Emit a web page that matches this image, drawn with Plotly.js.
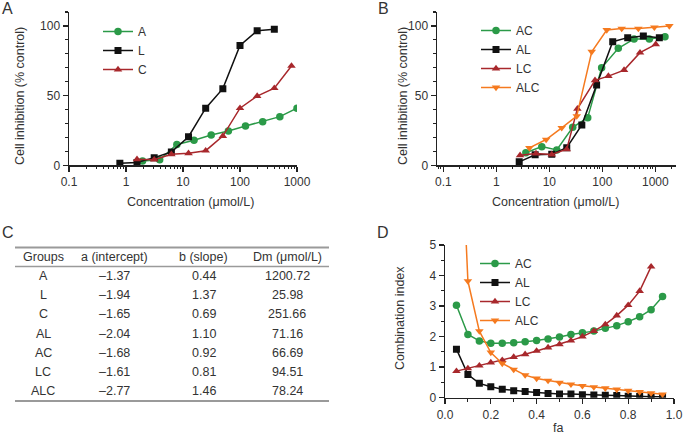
<!DOCTYPE html>
<html>
<head>
<meta charset="utf-8">
<script src="https://cdn.plot.ly/plotly-3.0.1.min.js"></script>
<style>
  html, body { margin: 0; padding: 0; background: #fff; }
  #chart { width: 685px; height: 434px; }
</style>
</head>
<body>
<div id="chart"></div>
<script>
// Panel A - single agents
const concA = [1.95, 3.9, 7.8, 15.6, 31.25, 62.5, 125, 250, 500, 1000];
const inhibA = [3, 4, 15, 18, 21.8, 24.6, 28.2, 31.3, 34.9, 41];
const concL = [0.78, 1.56, 3.125, 6.25, 12.5, 25, 50, 100, 200, 400];
const inhibL = [1.4, 2, 5.5, 9.5, 20.5, 41, 55, 86, 96.6, 97.6];
const concC = [1.56, 3.125, 6.25, 12.5, 25, 50, 100, 200, 400, 800];
const inhibC = [4.3, 4, 7.9, 8.6, 10.5, 21, 41, 49.7, 55.3, 71.3];

// Panel B - combinations
const concAC = [3.6, 7.2, 13.8, 27.6, 53, 97, 200, 397, 771, 1520];
const inhibAC = [9, 13.4, 11, 27.3, 34.2, 70, 84, 90.7, 90.7, 92.3];
const concAL = [2.7, 5.4, 11.1, 21.3, 41, 78, 157, 301, 594, 1190];
const inhibAL = [2.5, 7.6, 8, 12.6, 29, 57.6, 88.7, 91.6, 92.8, 91.6];
const concLC = [2.8, 5.6, 11.1, 21.3, 33.8, 72.8, 130, 257, 514, 1018];
const inhibLC = [7.2, 8.4, 7.7, 11.5, 40.5, 61, 64, 68.3, 80.8, 86.8];
const concALC = [4.2, 8.7, 17.1, 32.9, 63, 121, 232, 478, 958, 1837];
const inhibALC = [12.5, 18.5, 26.9, 35.3, 81.5, 97.1, 98.1, 98.1, 99, 100];

// Panel C - median-effect parameters
const groups = ['A', 'L', 'C', 'AL', 'AC', 'LC', 'ALC'];
const intercepts = ['–1.37', '–1.94', '–1.65', '–2.04', '–1.68', '–1.61', '–2.77'];
const slopes = ['0.44', '1.37', '0.69', '1.10', '0.92', '0.81', '1.46'];
const dms = ['1200.72', '25.98', '251.66', '71.16', '66.69', '94.51', '78.24'];
const headers = ['Groups', 'a (intercept)', 'b (slope)', 'Dm (μmol/L)'];

// Panel D - combination index vs fa
const fa = [0.05, 0.1, 0.15, 0.2, 0.25, 0.3, 0.35, 0.4, 0.45, 0.5, 0.55, 0.6, 0.65, 0.7, 0.75, 0.8, 0.85, 0.9, 0.95];
const ciAC = [3.03, 2.07, 1.86, 1.78, 1.78, 1.8, 1.83, 1.87, 1.92, 1.99, 2.07, 2.13, 2.18, 2.27, 2.36, 2.49, 2.65, 2.88, 3.31];
const ciAL = [1.59, 0.76, 0.47, 0.36, 0.28, 0.23, 0.2, 0.17, 0.14, 0.12, 0.12, 0.1, 0.09, 0.08, 0.07, 0.05, 0.04, 0.03, 0.03];
const ciLC = [0.87, 0.96, 1.05, 1.15, 1.23, 1.33, 1.42, 1.53, 1.64, 1.75, 1.87, 2.0, 2.18, 2.4, 2.69, 3.03, 3.49, 4.29];
const ciALC = [12.2, 3.82, 2.18, 1.48, 1.12, 0.92, 0.74, 0.63, 0.56, 0.49, 0.44, 0.39, 0.35, 0.31, 0.27, 0.23, 0.19, 0.15, 0.11];

const GREEN = '#2b9a48';
const BLACK = '#111111';
const RED = '#a8282c';
const ORANGE = '#f57a1f';
const TXT = '#333333';
const FONT = 'Liberation Sans, Arial, sans-serif';

function serie(x, y, name, color, symbol, xa, ya, leg) {
  return {
    x: x, y: y, name: name, type: 'scatter', mode: 'lines+markers',
    xaxis: xa, yaxis: ya, legend: leg,
    line: { color: color, width: 1.5 },
    marker: { color: color, symbol: symbol, size: symbol === 'square' ? 7 : 7.5 }
  };
}
// empty trace so the minor-tick companion axes get a subplot
function holder(xa, ya) {
  return { x: [], y: [], type: 'scatter', mode: 'markers', xaxis: xa, yaxis: ya, showlegend: false, hoverinfo: 'skip' };
}

const traces = [
  serie(concA, inhibA, 'A', GREEN, 'circle', 'x', 'y', 'legend'),
  serie(concL, inhibL, 'L', BLACK, 'square', 'x', 'y', 'legend'),
  serie(concC, inhibC, 'C', RED, 'triangle-up', 'x', 'y', 'legend'),
  serie(concAC, inhibAC, 'AC', GREEN, 'circle', 'x2', 'y2', 'legend2'),
  serie(concAL, inhibAL, 'AL', BLACK, 'square', 'x2', 'y2', 'legend2'),
  serie(concLC, inhibLC, 'LC', RED, 'triangle-up', 'x2', 'y2', 'legend2'),
  serie(concALC, inhibALC, 'ALC', ORANGE, 'triangle-down', 'x2', 'y2', 'legend2'),
  serie(fa, ciAC, 'AC', GREEN, 'circle', 'x3', 'y3', 'legend3'),
  serie(fa, ciAL, 'AL', BLACK, 'square', 'x3', 'y3', 'legend3'),
  serie(fa.slice(0, ciLC.length), ciLC, 'LC', RED, 'triangle-up', 'x3', 'y3', 'legend3'),
  serie(fa, ciALC, 'ALC', ORANGE, 'triangle-down', 'x3', 'y3', 'legend3'),
  holder('x4', 'y4'), holder('x5', 'y5'), holder('x6', 'y6')
];

const W = 685, H = 434;
const px = v => v / W;
const py = v => 1 - v / H;

const axisBase = {
  showline: true, linecolor: '#222', linewidth: 1.5,
  ticks: 'outside', ticklen: 5, tickwidth: 1.4, tickcolor: '#222',
  showgrid: false, zeroline: false, fixedrange: true,
  tickfont: { size: 12, color: TXT, family: FONT }
};

// companion axes that only carry the short minor ticks
function minorAxis(extra) {
  return Object.assign({
    showline: false, showgrid: false, zeroline: false, fixedrange: true,
    showticklabels: false, ticks: 'outside', ticklen: 3, tickwidth: 1.1, tickcolor: '#222'
  }, extra);
}
const logMinor = [];
for (let e = -2; e <= 3; e++) for (let m = 2; m <= 9; m++) logMinor.push(m * Math.pow(10, e));

const logTicks = {
  type: 'log', tickmode: 'array', tickvals: [0.1, 1, 10, 100, 1000],
  ticktext: ['0.1', '1', '10', '100', '1000']
};
const pctTicks = { range: [0, 110], tickmode: 'array', tickvals: [0, 50, 100] };

const legendBase = {
  xanchor: 'left', yanchor: 'top', bgcolor: 'rgba(0,0,0,0)',
  font: { size: 12, color: TXT, family: FONT }, itemwidth: 30, tracegroupgap: 0
};

// Table of panel C: rules and text
const tableLeft = 15, tableRight = 329;
const colX = [43, 114, 203.5, 287];
const headerY = 257, rowTop = 276, rowStep = 19.2;
const shapes = [
  { type: 'line', xref: 'paper', yref: 'paper', x0: px(tableLeft), x1: px(tableRight), y0: py(247.5), y1: py(247.5), line: { color: '#9a9a9a', width: 2 } },
  { type: 'line', xref: 'paper', yref: 'paper', x0: px(tableLeft), x1: px(tableRight), y0: py(266.5), y1: py(266.5), line: { color: '#9a9a9a', width: 1.5 } },
  { type: 'line', xref: 'paper', yref: 'paper', x0: px(tableLeft), x1: px(tableRight), y0: py(401), y1: py(401), line: { color: '#9a9a9a', width: 2 } }
];

const annotations = [];
function txt(x, y, s, size, angle) {
  annotations.push({
    xref: 'paper', yref: 'paper', x: px(x), y: py(y), text: s, showarrow: false,
    xanchor: 'center', yanchor: 'middle', textangle: angle || 0,
    font: { size: size, color: TXT, family: FONT }
  });
}
headers.forEach((h, j) => txt(colX[j], headerY, h, 12.5));
groups.forEach((g, i) => {
  const y = rowTop + i * rowStep;
  txt(colX[0], y, g, 12.5);
  txt(colX[1], y, intercepts[i], 12.5);
  txt(colX[2], y, slopes[i], 12.5);
  txt(colX[3], y, dms[i], 12.5);
});

// panel letters
txt(8, 9, 'A', 16);
txt(383, 9, 'B', 16);
txt(8, 232, 'C', 16);
txt(383, 232, 'D', 16);

// axis titles
txt(20, 96, 'Cell inhibition (% control)', 12.5, -90);
txt(190, 202, 'Concentration (μmol/L)', 12.5);
txt(403, 96, 'Cell inhibition (% control)', 12.5, -90);
txt(555, 202, 'Concentration (μmol/L)', 12.5);
txt(400, 318, 'Combination index', 12.5, -90);
txt(558, 428, 'fa', 12.5);

const domA = [px(69), px(297)], domB = [px(437), px(676)], domD = [px(445), px(674)];
const domTop = [py(165.3), py(12)], domBot = [py(397.7), py(245)];

const layout = {
  width: W, height: H, autosize: false,
  margin: { l: 0, r: 0, t: 0, b: 0 },
  paper_bgcolor: '#fff', plot_bgcolor: 'rgba(0,0,0,0)',
  font: { family: FONT, color: TXT },
  xaxis: Object.assign({}, axisBase, logTicks, { domain: domA, range: [-1, 3], anchor: 'y' }),
  yaxis: Object.assign({}, axisBase, pctTicks, { domain: domTop, anchor: 'x' }),
  xaxis2: Object.assign({}, axisBase, logTicks, { domain: domB, range: [-1.12, 3.39], anchor: 'y2' }),
  yaxis2: Object.assign({}, axisBase, pctTicks, { domain: domTop, anchor: 'x2' }),
  xaxis3: Object.assign({}, axisBase, {
    domain: domD, range: [0, 1], anchor: 'y3',
    tickmode: 'linear', tick0: 0, dtick: 0.2, tickformat: '.1f'
  }),
  yaxis3: Object.assign({}, axisBase, {
    domain: domBot, range: [0, 5], anchor: 'x3', tickmode: 'linear', tick0: 0, dtick: 1
  }),
  // minor tick companions
  xaxis4: minorAxis({ type: 'log', overlaying: 'x', anchor: 'y', domain: domA, range: [-1, 3], tickmode: 'array', tickvals: logMinor }),
  yaxis4: minorAxis({ overlaying: 'y', anchor: 'x', domain: domTop, range: [0, 110], tickmode: 'linear', tick0: 0, dtick: 10 }),
  xaxis5: minorAxis({ type: 'log', overlaying: 'x2', anchor: 'y2', domain: domB, range: [-1.12, 3.39], tickmode: 'array', tickvals: logMinor }),
  yaxis5: minorAxis({ overlaying: 'y2', anchor: 'x2', domain: domTop, range: [0, 110], tickmode: 'linear', tick0: 0, dtick: 10 }),
  xaxis6: minorAxis({ overlaying: 'x3', anchor: 'y3', domain: domD, range: [0, 1], tickmode: 'linear', tick0: 0, dtick: 0.1 }),
  yaxis6: minorAxis({ overlaying: 'y3', anchor: 'x3', domain: domBot, range: [0, 5], tickmode: 'linear', tick0: 0, dtick: 0.5 }),
  legend: Object.assign({}, legendBase, { x: px(98), y: py(17) }),
  legend2: Object.assign({}, legendBase, { x: px(476), y: py(16) }),
  legend3: Object.assign({}, legendBase, { x: px(475), y: py(249) }),
  shapes: shapes,
  annotations: annotations
};

Plotly.newPlot('chart', traces, layout, { displayModeBar: false, staticPlot: true });
</script>
</body>
</html>
